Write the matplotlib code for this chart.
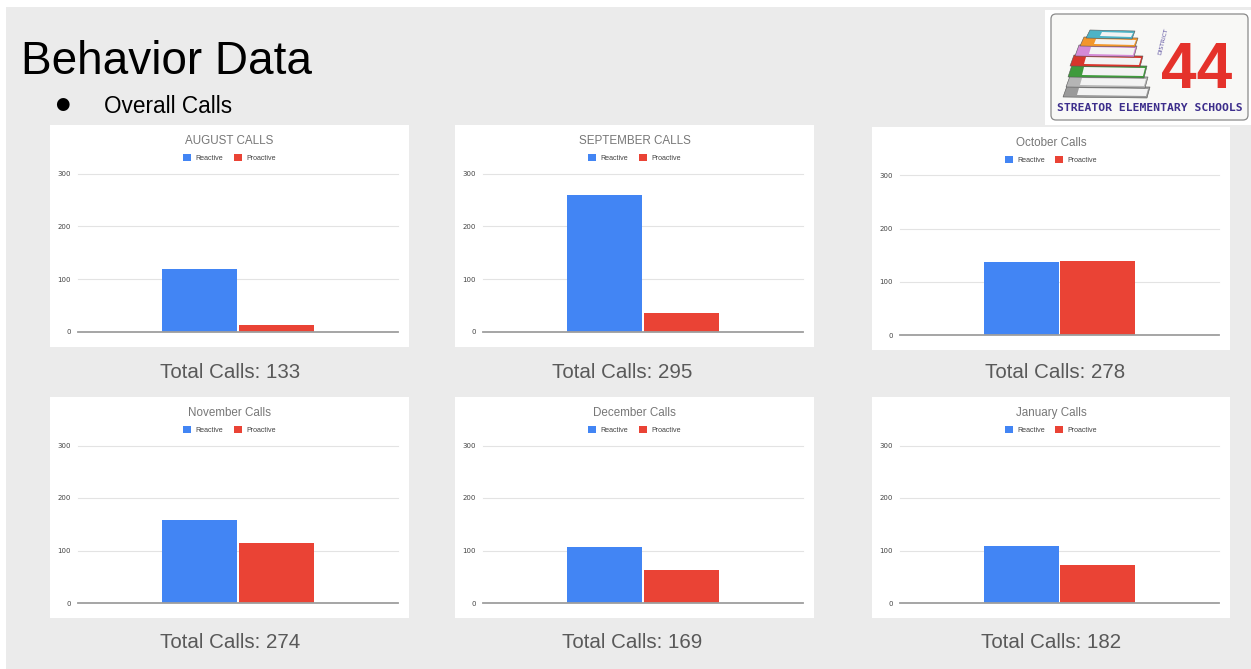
import matplotlib.pyplot as plt
from matplotlib.patches import Rectangle, FancyBboxPatch, Polygon

# chart data
titles = ["AUGUST CALLS", "SEPTEMBER CALLS", "October Calls",
          "November Calls", "December Calls", "January Calls"]
reactive = [119, 259, 138, 159, 106, 109]
proactive = [14, 36, 140, 115, 63, 73]
totals = [133, 295, 278, 274, 169, 182]
series = ["Reactive", "Proactive"]
yticks = [0, 100, 200, 300]

W, H = 1251, 669
BLUE = "#4285f4"
RED = "#ea4335"
SANS = ["Liberation Sans", "DejaVu Sans"]


def box(x0, y0, x1, y1):
    # pixel box with top-left origin -> figure fraction rect
    return [x0 / W, 1 - y1 / H, (x1 - x0) / W, (y1 - y0) / H]


fig = plt.figure(figsize=(W / 100, H / 100), dpi=100)
fig.patch.set_facecolor("white")

# background layer in pixel coordinates
bg = fig.add_axes([0, 0, 1, 1])
bg.set_xlim(0, W)
bg.set_ylim(H, 0)
bg.axis("off")
bg.add_patch(Rectangle((6, 7), W - 6, H - 7, facecolor="#ebebeb", edgecolor="none"))

bg.text(21, 74, "Behavior Data", fontsize=33, family=SANS, color="black", va="baseline")
bg.text(62, 104, "\u25cf", fontsize=12, family="DejaVu Sans", color="black", ha="center", va="center")
bg.text(104, 113, "Overall Calls", fontsize=16.3, family=SANS, color="black", va="baseline")

# logo
bg.add_patch(Rectangle((1045, 10), 206, 115, facecolor="white", edgecolor="none"))
bg.add_patch(FancyBboxPatch((1051, 14), 197, 106, boxstyle="round,pad=0,rounding_size=5",
                            facecolor="#f8f8f6", edgecolor="#8a8a8a", lw=0.9))
books = [  # (x_left, x_right, y_top, thickness, color)
    (1063, 1150, 86, 11, "#9a9a9a"),
    (1066, 1148, 76, 11, "#b5b5b5"),
    (1068, 1147, 65, 12, "#3f9b3c"),
    (1070, 1143, 55, 11, "#d8352b"),
    (1075, 1137, 45, 11, "#d48ad6"),
    (1080, 1138, 37, 9, "#f2962a"),
    (1086, 1135, 30, 8, "#4db3c6"),
]
for xl, xr, yt, th, col in books:
    bg.add_patch(Polygon([(xl, yt + th), (xl + 4, yt), (xr, yt + 1), (xr - 3, yt + th + 1)],
                         closed=True, facecolor=col, edgecolor="#555555", lw=0.4))
    bg.add_patch(Polygon([(xl + 14, yt + th - 2), (xl + 16, yt + 2), (xr - 2, yt + 3), (xr - 4, yt + th - 1)],
                         closed=True, facecolor="#f3f3f3", edgecolor="none"))
bg.text(1197, 88, "44", fontsize=46, family=SANS, weight="bold", color="#e5322b",
        ha="center", va="baseline")
bg.text(1163, 41, "DISTRICT", fontsize=4.3, family="DejaVu Sans", color="#5a4fa0",
        rotation=76, ha="center", va="center")
bg.text(1150, 108, "STREATOR ELEMENTARY SCHOOLS", fontsize=8.2, family="DejaVu Sans Mono",
        weight="bold", color="#3d2e8c", ha="center", va="center")

panels = [(50, 125, 409, 347), (455, 125, 814, 347), (872, 127, 1230, 350),
          (50, 397, 409, 618), (455, 397, 814, 618), (872, 397, 1230, 618)]
total_pos = [(230, 372), (622, 372), (1055, 372), (230, 643), (632, 643), (1051, 643)]

bw = 0.234
for i, (x0, y0, x1, y1) in enumerate(panels):
    bg.add_patch(Rectangle((x0, y0), x1 - x0, y1 - y0, facecolor="white", edgecolor="none"))
    cx = (x0 + x1) / 2
    bg.text(cx, y0 + 16, titles[i], fontsize=8.4, family=SANS, color="#777777",
            ha="center", va="center")

    ax = fig.add_axes(box(x0 + 28, y0 + 48.5, x1 - 11, y1 - 15))
    ax.set_facecolor("none")
    for y in yticks[1:]:
        ax.axhline(y, color="#e3e3e3", lw=0.8, clip_on=False, zorder=0)
    b1 = ax.bar(-0.12, reactive[i], bw, color=BLUE, zorder=2, label=series[0])
    b2 = ax.bar(0.12, proactive[i], bw, color=RED, zorder=2, label=series[1])
    ax.axhline(0, color="#9e9e9e", lw=1.3, clip_on=False, zorder=3)
    ax.set_xlim(-0.5, 0.5)
    ax.set_ylim(0, 300)
    ax.set_xticks([])
    ax.set_yticks(yticks)
    ax.tick_params(axis="y", length=0, labelsize=5, labelcolor="#444444", pad=5)
    for s in ax.spines.values():
        s.set_visible(False)

    fig.legend(handles=[b1, b2], labels=series, loc="center",
               bbox_to_anchor=(cx / W, 1 - (y0 + 33) / H), bbox_transform=fig.transFigure,
               ncol=2, frameon=False, prop={"family": SANS, "size": 5.1},
               handlelength=1.1, handleheight=1.1, handletextpad=0.6, columnspacing=1.5,
               labelcolor="#444444")

    tx, ty = total_pos[i]
    bg.text(tx, ty, "Total Calls: {0}".format(totals[i]), fontsize=14.8,
            family=SANS, color="#595959", ha="center", va="center")

fig.savefig("out.png", dpi=100)
